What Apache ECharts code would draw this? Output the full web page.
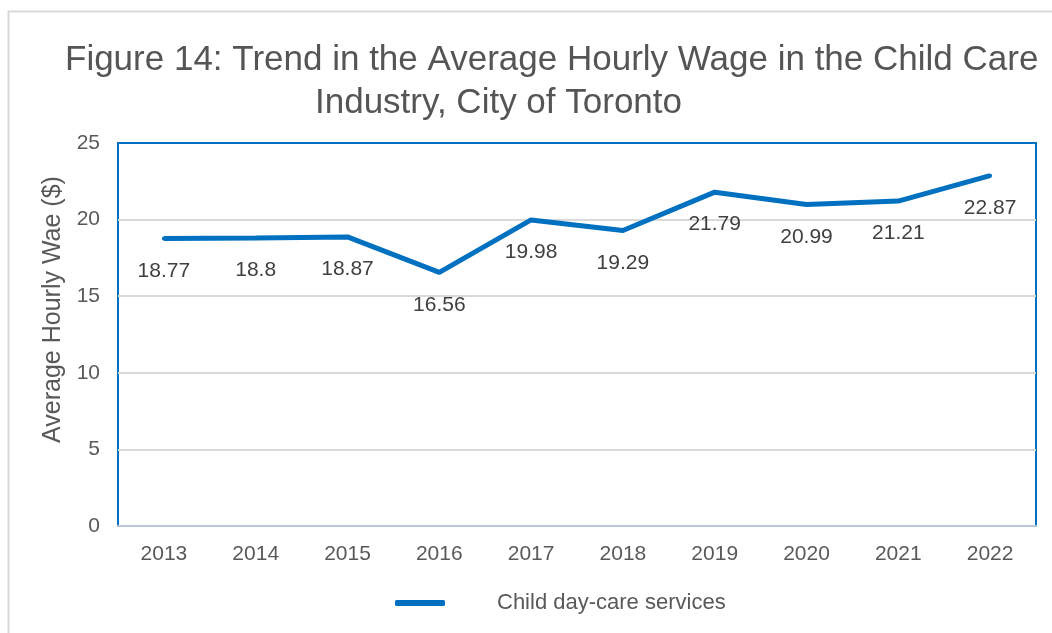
<!DOCTYPE html>
<html>
<head>
<meta charset="utf-8">
<script src="https://cdn.jsdelivr.net/npm/echarts@6/dist/echarts.min.js"></script>
<style>
  html, body { margin: 0; padding: 0; background: #fff; }
  #container { width: 1052px; height: 633px; }
</style>
</head>
<body>
<div id="container"></div>
<script>
var years = ['2013', '2014', '2015', '2016', '2017', '2018', '2019', '2020', '2021', '2022'];
var wages = [18.77, 18.8, 18.87, 16.56, 19.98, 19.29, 21.79, 20.99, 21.21, 22.87];
var seriesName = 'Child day-care services';

var dom = document.getElementById('container');
var myChart = echarts.init(dom);
var font = 'Liberation Sans, Arial, sans-serif';

var option = {
    backgroundColor: '#ffffff',
    title: [
        {
            text: 'Figure 14: Trend in the Average Hourly Wage in the Child Care',
            left: 60,
            top: 38,
            textStyle: { fontFamily: font, fontSize: 35, fontWeight: 'normal', color: '#555555' }
        },
        {
            text: 'Industry, City of Toronto',
            left: 310,
            top: 81,
            textStyle: { fontFamily: font, fontSize: 35, fontWeight: 'normal', color: '#555555' }
        }
    ],
    graphic: [{
        type: 'rect',
        shape: { x: 8.5, y: 11.5, width: 1100, height: 700 },
        style: { fill: 'none', stroke: '#d9d9d9', lineWidth: 2 },
        silent: true
    }],
    legend: {
        data: [seriesName],
        left: 390,
        top: 587,
        icon: 'roundRect',
        itemWidth: 50,
        itemHeight: 6,
        textStyle: {
            fontFamily: font, fontSize: 22, color: '#595959',
            padding: [0, 0, 0, 47]
        }
    },
    grid: {
        left: 118,
        right: 16,
        top: 143,
        bottom: 107,
        show: true,
        borderColor: '#0070C0',
        borderWidth: 2,
        containLabel: false
    },
    xAxis: {
        type: 'category',
        data: years,
        boundaryGap: true,
        axisLine: { lineStyle: { color: '#b8c8d8', width: 2 } },
        axisTick: { show: false },
        axisLabel: { fontFamily: font, fontSize: 21, color: '#595959', margin: 18 }
    },
    yAxis: {
        type: 'value',
        min: 0,
        max: 25,
        interval: 5,
        name: 'Average Hourly Wae ($)',
        nameLocation: 'middle',
        nameGap: 51,
        nameRotate: 90,
        nameTextStyle: {
            fontFamily: font, fontSize: 25, color: '#595959',
            padding: [0, 0, 0, 50]
        },
        axisLine: { show: false },
        axisTick: { show: false },
        axisLabel: { fontFamily: font, fontSize: 21, color: '#595959', margin: 18 },
        splitLine: { showMaxLine: false, lineStyle: { color: '#d9d9d9', width: 2 } }
    },
    series: [{
        name: seriesName,
        type: 'line',
        data: wages,
        symbol: 'circle',
        symbolSize: 4,
        showSymbol: true,
        color: '#0070C0',
        itemStyle: { color: '#0070C0' },
        lineStyle: { width: 5, color: '#0070C0' },
        label: {
            show: true,
            position: 'bottom',
            distance: 20,
            fontFamily: font,
            fontSize: 21,
            color: '#404040'
        },
        animation: false
    }],
    animation: false
};

myChart.setOption(option);
</script>
</body>
</html>
